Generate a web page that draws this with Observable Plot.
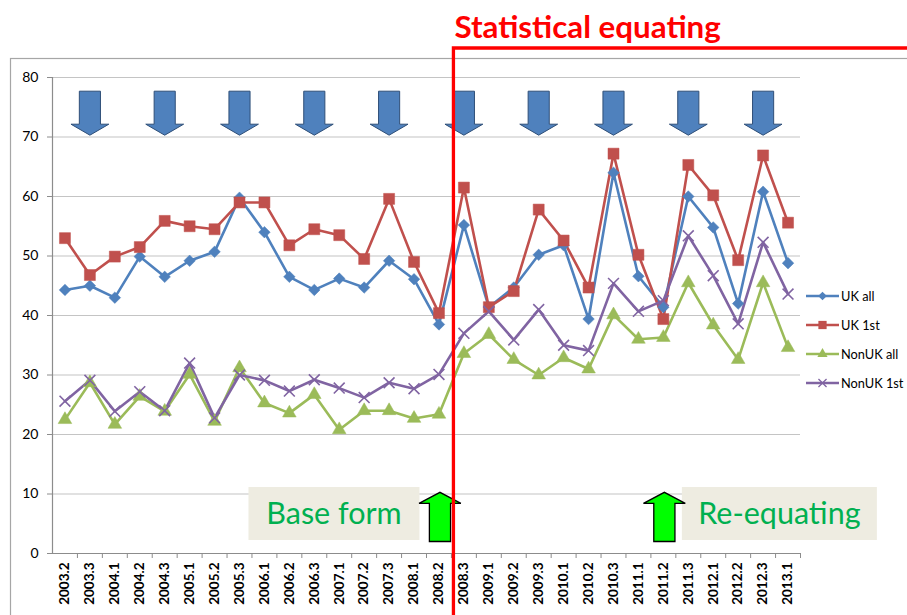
<!DOCTYPE html>
<html>
<head>
<meta charset="utf-8">
<script src="https://cdn.jsdelivr.net/npm/d3@7"></script>
<script src="https://cdn.jsdelivr.net/npm/@observablehq/plot@0.6"></script>
<style>
  html, body { margin: 0; padding: 0; background: #fff; }
  #chart { width: 907px; height: 615px; overflow: hidden; }
</style>
</head>
<body>
<div id="chart"></div>
<script>
const categories = ["2003.2","2003.3","2004.1","2004.2","2004.3","2005.1","2005.2","2005.3","2006.1","2006.2","2006.3","2007.1","2007.2","2007.3","2008.1","2008.2","2008.3","2009.1","2009.2","2009.3","2010.1","2010.2","2010.3","2011.1","2011.2","2011.3","2012.1","2012.2","2012.3","2013.1"];
const ukAll    = [44.3,45.0,43.0,49.9,46.5,49.2,50.7,59.8,54.0,46.5,44.3,46.2,44.7,49.2,46.1,38.5,55.2,41.4,44.7,50.2,51.8,39.4,64.0,46.6,41.4,60.0,54.8,42.0,60.8,48.8];
const uk1st    = [53.0,46.8,49.9,51.5,55.9,55.0,54.5,59.0,59.0,51.8,54.5,53.5,49.5,59.6,49.0,40.4,61.5,41.4,44.1,57.8,52.6,44.7,67.2,50.2,39.4,65.3,60.2,49.3,66.9,55.6];
const nonUkAll = [22.5,28.7,21.7,26.4,23.9,30.1,22.2,31.2,25.3,23.6,26.7,20.8,24.0,24.0,22.7,23.4,33.6,36.8,32.6,30.0,32.9,31.0,40.1,36.0,36.3,45.5,38.4,32.6,45.5,34.6];
const nonUk1st = [25.6,29.1,23.9,27.2,24.0,32.0,22.8,30.0,29.1,27.3,29.2,27.8,26.2,28.7,27.7,30.1,37.0,40.7,35.9,41.0,35.0,34.1,45.4,40.7,42.5,53.4,46.7,38.6,52.3,43.6];
const seriesNames = ["UK all","UK 1st","NonUK all","NonUK 1st"];
const yTicks = [0,10,20,30,40,50,60,70,80];
const downArrowCats = ["2003.3","2004.3","2005.3","2006.3","2007.3","2008.3","2009.3","2010.3","2011.3","2012.3"];
const downArrowLevel = 74;
const upArrowCats = ["2008.2","2011.2"];
const upArrowLevel = 6.15;
const titleText = "Statistical equating";
const boxTexts = ["Base form","Re-equating"];
const equatingStart = "2008.3";

const W = 907, H = 615, ML = 52, MR = 107, MT = 77, MB = 62;
const step = (W - ML - MR) / categories.length;

const series = [
  {name: seriesNames[0], values: ukAll,    color: "#4F81BD", symbol: "diamond2",  r: 5.2, filled: true},
  {name: seriesNames[1], values: uk1st,    color: "#C0504D", symbol: "square2",   r: 7,   filled: true},
  {name: seriesNames[2], values: nonUkAll, color: "#9BBB59", symbol: "triangle2", r: 6.5, filled: true},
  {name: seriesNames[3], values: nonUk1st, color: "#8064A2", symbol: "times",     r: 5,   filled: false}
];

const downArrow = { draw(ctx, size) {
  const s = Math.sqrt(size / Math.PI), sw = 0.48 * s, hw = 0.86 * s, hb = 0.5 * s;
  ctx.moveTo(-sw, -s); ctx.lineTo(sw, -s); ctx.lineTo(sw, hb); ctx.lineTo(hw, hb);
  ctx.lineTo(0, s); ctx.lineTo(-hw, hb); ctx.lineTo(-sw, hb); ctx.closePath();
}};
const upArrow = { draw(ctx, size) {
  const s = Math.sqrt(size / Math.PI), sw = 0.43 * s, hw = 0.85 * s, hb = -0.55 * s;
  ctx.moveTo(-sw, s); ctx.lineTo(sw, s); ctx.lineTo(sw, hb); ctx.lineTo(hw, hb);
  ctx.lineTo(0, -s); ctx.lineTo(-hw, hb); ctx.lineTo(-sw, hb); ctx.closePath();
}};

const marks = [
  Plot.gridY(yTicks, {stroke: "#c4c4c4", strokeOpacity: 1, strokeWidth: 1.2}),
  Plot.ruleY([0], {stroke: "#8c8c8c", strokeWidth: 1.2}),
  Plot.frame({anchor: "left", stroke: "#8c8c8c", strokeWidth: 1.2}),
  Plot.axisY(yTicks, {tickSize: 5, tickPadding: 9, fontSize: 14, stroke: "#8c8c8c", fill: "#000"}),
  Plot.axisX({tickSize: 5, tickFormat: () => "", dx: step / 2, stroke: "#8c8c8c"}),
  Plot.axisX({tickSize: 0, tickRotate: -90, tickPadding: 9, fontSize: 13.5, fontWeight: "bold", fill: "#000"})
];
for (const s of series) {
  const rows = categories.map((c, i) => ({cat: c, value: s.values[i]}));
  marks.push(Plot.line(rows, {x: "cat", y: "value", stroke: s.color, strokeWidth: 2.6}));
}
for (const s of series) {
  const rows = categories.map((c, i) => ({cat: c, value: s.values[i]}));
  marks.push(Plot.dot(rows, s.filled
    ? {x: "cat", y: "value", symbol: s.symbol, r: s.r, fill: s.color, stroke: s.color, strokeWidth: 0.5}
    : {x: "cat", y: "value", symbol: s.symbol, r: s.r, stroke: s.color, strokeWidth: 1.6}));
}
marks.push(Plot.dot(downArrowCats, {x: d => d, y: () => downArrowLevel, symbol: downArrow, r: 22, fill: "#4F81BD", stroke: "#2f4f78", strokeWidth: 1}));

const xScale = {type: "point", domain: categories, padding: 0.5, round: false};
const chart = Plot.plot({
  width: W, height: H,
  marginLeft: ML, marginRight: MR, marginTop: MT, marginBottom: MB,
  style: {fontFamily: "Lato, sans-serif", background: "white", overflow: "visible", color: "#000"},
  x: {...xScale, label: null},
  y: {domain: [0, 80], label: null},
  marks
});
document.getElementById("chart").appendChild(chart);

const xs = chart.scale("x");
const svg = d3.select(chart);

// chart area border (behind everything)
svg.insert("rect", ":first-child")
  .attr("x", 10.5).attr("y", 58.5).attr("width", 1200).attr("height", 1200)
  .attr("fill", "none").attr("stroke", "#a6a6a6").attr("stroke-width", 1.2);

// annotation boxes
const boxY = 487, boxH = 53;
const xBase = xs.apply(upArrowCats[0]), xRe = xs.apply(upArrowCats[1]);
const boxes = [
  {text: boxTexts[0], x0: xBase - 190, x1: xBase - 19},
  {text: boxTexts[1], x0: xRe + 19, x1: xRe + 214}
];
for (const b of boxes) {
  svg.append("rect").attr("x", b.x0).attr("y", boxY).attr("width", b.x1 - b.x0).attr("height", boxH).attr("fill", "#EEECE1");
  svg.append("text").attr("x", (b.x0 + b.x1) / 2).attr("y", boxY + 37).attr("text-anchor", "middle")
    .attr("font-family", "Lato, sans-serif").attr("font-size", 30.5).attr("fill", "#00B050").text(b.text);
}

// green up arrows: a second Plot with the same scales, its mark groups moved in
const up = Plot.plot({
  width: W, height: H, marginLeft: ML, marginRight: MR, marginTop: MT, marginBottom: MB,
  x: {...xScale, axis: null},
  y: {domain: [0, 80], axis: null},
  style: {background: "none", overflow: "visible"},
  marks: [Plot.dot(upArrowCats, {x: d => d, y: () => upArrowLevel, dx: 1, symbol: upArrow, r: 24.6, fill: "#00FF00", stroke: "#000", strokeWidth: 1.3})]
});
for (const g of Array.from(up.children)) { if (g.tagName === "g") chart.appendChild(g); }

// red bracket + title
const xe = xs.apply(equatingStart) - step / 2 + 2.5;
svg.append("path")
  .attr("d", `M${xe},${H + 5} L${xe},48 L${W + 5},48`)
  .attr("fill", "none").attr("stroke", "#FF0000").attr("stroke-width", 3.3);
svg.append("text").attr("x", xe + 1).attr("y", 38).attr("text-anchor", "start")
  .attr("font-family", "Lato, sans-serif").attr("font-weight", "bold").attr("font-size", 31.3)
  .attr("fill", "#FF0000").text(titleText);

// legend
const legY0 = 296, legDy = 29, legX = 806;
series.forEach((s, i) => {
  const y = legY0 + i * legDy;
  svg.append("line").attr("x1", legX).attr("x2", legX + 33).attr("y1", y).attr("y2", y)
    .attr("stroke", s.color).attr("stroke-width", 2.6);
  const sym = {diamond2: d3.symbolDiamond2, square2: d3.symbolSquare2, triangle2: d3.symbolTriangle2, times: d3.symbolTimes}[s.symbol];
  const r = s.r * 0.75;
  const p = svg.append("path").attr("transform", `translate(${legX + 16.5},${y})`)
    .attr("d", d3.symbol(sym, Math.PI * r * r)());
  if (s.filled) p.attr("fill", s.color); else p.attr("fill", "none").attr("stroke", s.color).attr("stroke-width", 1.3);
  svg.append("text").attr("x", legX + 35).attr("y", y + 4.5).attr("text-anchor", "start")
    .attr("font-family", "Lato, sans-serif").attr("font-size", 12.8).attr("fill", "#000").text(s.name);
});
</script>
</body>
</html>
